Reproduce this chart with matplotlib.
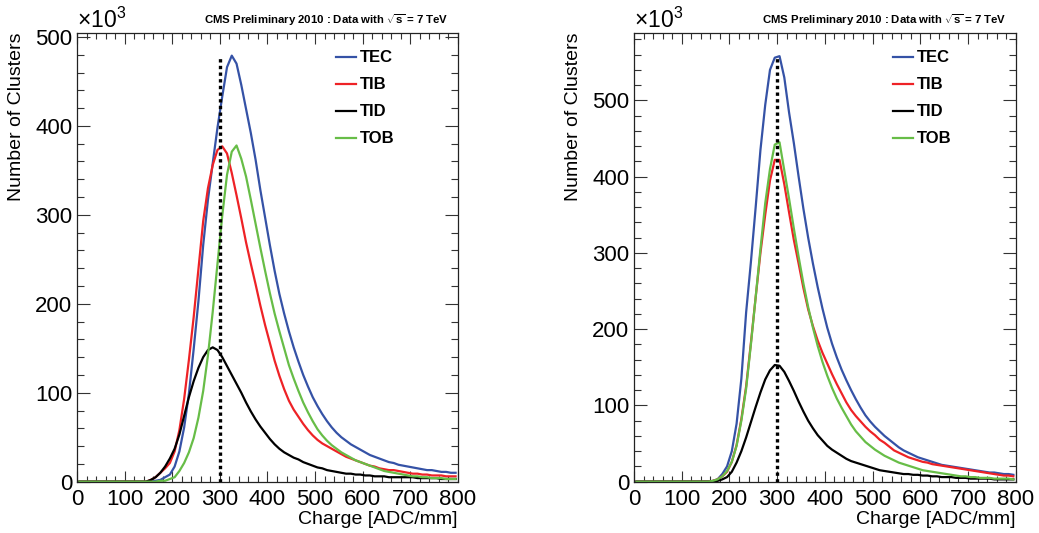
import numpy as np
import matplotlib
matplotlib.use("Agg")
import matplotlib.pyplot as plt
from matplotlib.ticker import MultipleLocator

plt.rcParams['font.family'] = ['Liberation Sans', 'DejaVu Sans']
plt.rcParams['mathtext.fontset'] = 'custom'
plt.rcParams['mathtext.rm'] = 'Liberation Sans'
plt.rcParams['mathtext.it'] = 'Liberation Sans:italic'
plt.rcParams['mathtext.bf'] = 'Liberation Sans:bold'

# ---- data: cluster counts (x10^3) at bin centres 5, 15, ..., 795 ADC/mm ----
bin_centers = list(range(5, 800, 10))
series_names = ["TEC", "TIB", "TID", "TOB"]
series_colors = ["#3552a6", "#ee2226", "#000000", "#67bd47"]

left_TEC = [0]*10 + [0,0,0,0,0,1,1,2,5,8] + \
    [17,34,61,99,149,203,266,317,358,398] + \
    [433,466,479,470,446,419,392,362,328,297] + \
    [266,237,211,189,169,151,135,120,107,95] + \
    [85,76,68,61,55,50,46,42,39,36] + \
    [33,30,28,26,24,22,21,19,18,17] + \
    [16,15,14,13,13,12,11,11,10,10]
left_TIB = [0]*10 + [0,0,0,0,0,2,5,10,15,21] + \
    [34,58,93,137,185,239,293,330,356,373] + \
    [377,369,347,322,296,269,245,222,198,176] + \
    [156,136,119,104,91,81,73,65,58,52] + \
    [47,43,40,37,34,31,28,26,24,22] + \
    [20,18,17,15,14,13,13,12,11,10] + \
    [9,9,8,8,7,7,7,6,6,6]
left_TID = [0]*10 + [0,0,0,0,0,2,5,10,17,26] + \
    [37,53,74,95,113,128,140,148,151,148] + \
    [140,130,120,110,100,89,79,70,62,55] + \
    [48,42,37,33,30,27,25,22,20,18] + \
    [16,15,13,12,11,10,9,9,8,8] + \
    [7,7,6,6,6,5,5,5,5,5] + \
    [5,4,4,4,4,4,3,3,3,3]
left_TOB = [0]*10 + [0,0,0,0,0,0,0,1,1,3] + \
    [5,12,21,33,49,72,102,142,191,245] + \
    [299,345,371,378,363,343,317,290,263,237] + \
    [212,189,169,150,131,116,102,89,78,68] + \
    [59,52,46,41,37,33,30,27,24,22] + \
    [20,18,16,14,12,11,10,9,8,7] + \
    [6,6,5,5,4,4,4,3,3,3]

right_TEC = [0]*10 + [0,0,0,0,0,0,1,3,10,20] + \
    [40,76,135,222,288,360,435,494,540,556] + \
    [558,530,484,444,400,358,320,286,255,227] + \
    [202,181,163,147,133,120,108,97,87,79] + \
    [72,66,60,55,50,45,41,38,35,32] + \
    [30,28,26,24,22,21,20,19,18,17] + \
    [16,15,14,13,12,12,11,10,10,9]
right_TIB = [0]*10 + [0,0,0,0,0,0,1,3,7,13] + \
    [26,48,82,125,182,242,300,350,395,422] + \
    [422,390,353,317,286,254,226,204,185,169] + \
    [155,141,128,116,104,94,86,79,72,66] + \
    [61,55,51,46,41,38,35,32,30,28] + \
    [26,25,23,22,21,20,19,18,17,16] + \
    [15,14,13,12,11,10,9,8,8,7]
right_TID = [0]*10 + [0,0,0,0,0,0,0,1,3,6] + \
    [13,25,40,58,78,98,117,134,146,153] + \
    [152,144,132,119,105,92,80,70,61,54] + \
    [47,42,38,34,30,27,25,23,21,19] + \
    [17,15,14,13,12,11,10,10,9,9] + \
    [8,8,7,7,6,6,6,5,5,5] + \
    [4,4,4,4,4,3,3,3,3,3]
right_TOB = [0]*10 + [0,0,0,0,0,0,1,3,7,14] + \
    [26,47,80,122,180,242,305,365,410,442] + \
    [445,408,371,332,295,260,229,202,178,157] + \
    [139,123,109,97,86,75,66,59,52,47] + \
    [42,38,34,31,28,25,23,21,19,17] + \
    [15,14,13,12,11,10,9,8,7,7] + \
    [6,6,5,5,5,4,4,4,4,3]

xtick_values = [0, 100, 200, 300, 400, 500, 600, 700, 800]
marker_x = 300
title_text = r"CMS Preliminary 2010 : Data with $\sqrt{\mathbf{s}}$ = 7 TeV"

panels = [
    dict(pos=[0.0741, 0.0963, 0.3667, 0.8427], ymax=505,
         data=[left_TEC, left_TIB, left_TID, left_TOB]),
    dict(pos=[0.6102, 0.0963, 0.3674, 0.8427], ymax=589,
         data=[right_TEC, right_TIB, right_TID, right_TOB]),
]

fig = plt.figure(figsize=(10.39, 5.33), dpi=100)
fig.patch.set_facecolor("white")

for p in panels:
    ax = fig.add_axes(p["pos"])
    for name, col, vals in zip(series_names, series_colors, p["data"]):
        ax.plot(bin_centers, vals, color=col, lw=1.6, label=name,
                solid_joinstyle="round")
    peak = max(p["data"][0])
    ax.vlines(marker_x, 0, peak, colors="black", linestyles=(0, (1, 1)), lw=2.4, zorder=5)

    ax.set_xlim(0, 800)
    ax.set_ylim(0, p["ymax"])
    ax.xaxis.set_major_locator(MultipleLocator(100))
    ax.xaxis.set_minor_locator(MultipleLocator(20))
    ax.yaxis.set_major_locator(MultipleLocator(100))
    ax.yaxis.set_minor_locator(MultipleLocator(20))
    ax.set_xticks(xtick_values)
    ax.tick_params(which="both", direction="in", top=True, right=True,
                   color="#333333", width=0.8, labelsize=16)
    ax.tick_params(axis="y", which="major", length=9.4, pad=3.5)
    ax.tick_params(axis="y", which="minor", length=5)
    ax.tick_params(axis="x", which="major", length=8, pad=5)
    ax.tick_params(axis="x", which="minor", length=4.3)
    for s in ax.spines.values():
        s.set_color("#222222")
        s.set_linewidth(0.9)

    ax.set_ylabel("Number of Clusters", fontsize=14, loc="top")
    ax.yaxis.set_label_coords(-0.1365, 1.0)
    ax.set_xlabel("Charge [ADC/mm]", fontsize=14, loc="right")
    ax.xaxis.set_label_coords(1.0, -0.066)

    ax.text(0.0, 1.01, r"$\times10^{3}$", transform=ax.transAxes,
            ha="left", va="baseline", fontsize=16.5)
    ax.text(0.976, 1.02, title_text, transform=ax.transAxes,
            ha="right", va="baseline", fontsize=8.2, fontweight="bold")

    leg = ax.legend(loc="upper left", bbox_to_anchor=(0.662, 0.975),
                    frameon=False, handlelength=1.2, handletextpad=0.22,
                    labelspacing=0.72, borderaxespad=0.0,
                    prop=dict(weight="bold", size=12))

fig.savefig("out.png", dpi=100, facecolor="white")
